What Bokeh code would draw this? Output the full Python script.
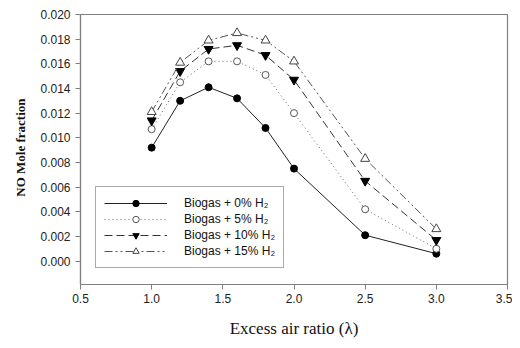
import math
from bokeh.plotting import figure
from bokeh.models import (Range1d, FixedTicker, NumeralTickFormatter, Legend,
                          LegendItem, Title)
from bokeh.embed import file_html
from bokeh.resources import INLINE

# ---- data ----
excess_air = [1.0, 1.2, 1.4, 1.6, 1.8, 2.0, 2.5, 3.0]
no_h2_0 = [0.0092, 0.0130, 0.0141, 0.0132, 0.0108, 0.0075, 0.0021, 0.0006]
no_h2_5 = [0.0107, 0.0145, 0.0162, 0.0162, 0.0151, 0.0120, 0.0042, 0.0010]
no_h2_10 = [0.0114, 0.0154, 0.0172, 0.0175, 0.0167, 0.0147, 0.0065, 0.0017]
no_h2_15 = [0.0121, 0.0161, 0.0179, 0.0185, 0.0179, 0.0162, 0.0083, 0.0026]
series_labels = ["Biogas + 0% H\u2082", "Biogas + 5% H\u2082",
                 "Biogas + 10% H\u2082", "Biogas + 15% H\u2082"]
x_ticks = [0.5, 1.0, 1.5, 2.0, 2.5, 3.0, 3.5]
y_ticks = [0.000, 0.002, 0.004, 0.006, 0.008, 0.010, 0.012, 0.014, 0.016, 0.018, 0.020]

p = figure(width=512, height=340, output_backend="svg", toolbar_location=None,
           x_range=Range1d(0.5, 3.5), y_range=Range1d(-0.0019, 0.020),
           min_border_left=78, min_border_right=5, min_border_top=14,
           min_border_bottom=47)
p.background_fill_color = "white"
p.border_fill_color = "white"
p.outline_line_color = "#808080"
p.outline_line_width = 1.2
p.grid.visible = False

tick_font = "Liberation Sans"
for ax in (p.xaxis[0], p.yaxis[0]):
    ax.axis_line_color = "#808080"
    ax.axis_line_width = 1.2
    ax.major_tick_line_color = "#808080"
    ax.major_tick_in = 0
    ax.major_tick_out = 5
    ax.minor_tick_line_color = None
    ax.major_label_text_font = tick_font
    ax.major_label_text_font_size = "12px"
    ax.major_label_text_color = "#222222"

p.xaxis[0].ticker = FixedTicker(ticks=x_ticks)
p.xaxis[0].formatter = NumeralTickFormatter(format="0.0")
p.xaxis[0].major_label_standoff = 4
p.xaxis[0].axis_label = "Excess air ratio (\u03bb)"
p.xaxis[0].axis_label_text_font = "Liberation Serif"
p.xaxis[0].axis_label_text_font_style = "normal"
p.xaxis[0].axis_label_text_font_size = "17px"
p.xaxis[0].axis_label_standoff = 13
p.xaxis[0].axis_label_text_color = "#111111"

p.yaxis[0].ticker = FixedTicker(ticks=y_ticks)
p.yaxis[0].formatter = NumeralTickFormatter(format="0.000")
p.yaxis[0].major_label_standoff = 5

ytitle = Title(text="NO Mole fraction", align="right", offset=84,
               text_font="Liberation Serif", text_font_style="bold",
               text_font_size="13px", text_color="#111111", standoff=20)
p.add_layout(ytitle, "left")

styles = [
    (no_h2_0, "solid", "circle", "black", "black", 7, "#222222"),
    (no_h2_5, "1 3", "circle", "white", "#555555", 7, "#666666"),
    (no_h2_10, "8 4", "inverted_triangle", "black", "black", 9, "#333333"),
    (no_h2_15, "8 3 2 3 2 3", "triangle", "white", "#444444", 9, "#555555"),
]

items = []
for (ys, dash, marker, fill, edge, size, lcol), lab in zip(styles, series_labels):
    ln = p.line(excess_air, ys, line_color=lcol, line_width=1, line_dash=dash)
    sc = p.scatter(excess_air, ys, marker=marker, size=size, fill_color=fill,
                   line_color=edge, line_width=1)
    items.append(LegendItem(label=lab, renderers=[ln, sc]))

legend = Legend(items=items, location=(15, 16))
legend.border_line_color = "#555555"
legend.border_line_width = 1
legend.background_fill_alpha = 1
legend.label_text_font = tick_font
legend.label_text_font_size = "12px"
legend.label_text_color = "#111111"
legend.glyph_width = 63
legend.glyph_height = 16
legend.label_height = 16
legend.label_standoff = 17
legend.spacing = 0
legend.padding = 8
legend.margin = 0
p.add_layout(legend)

open("out.html", "w").write(file_html(p, INLINE))
